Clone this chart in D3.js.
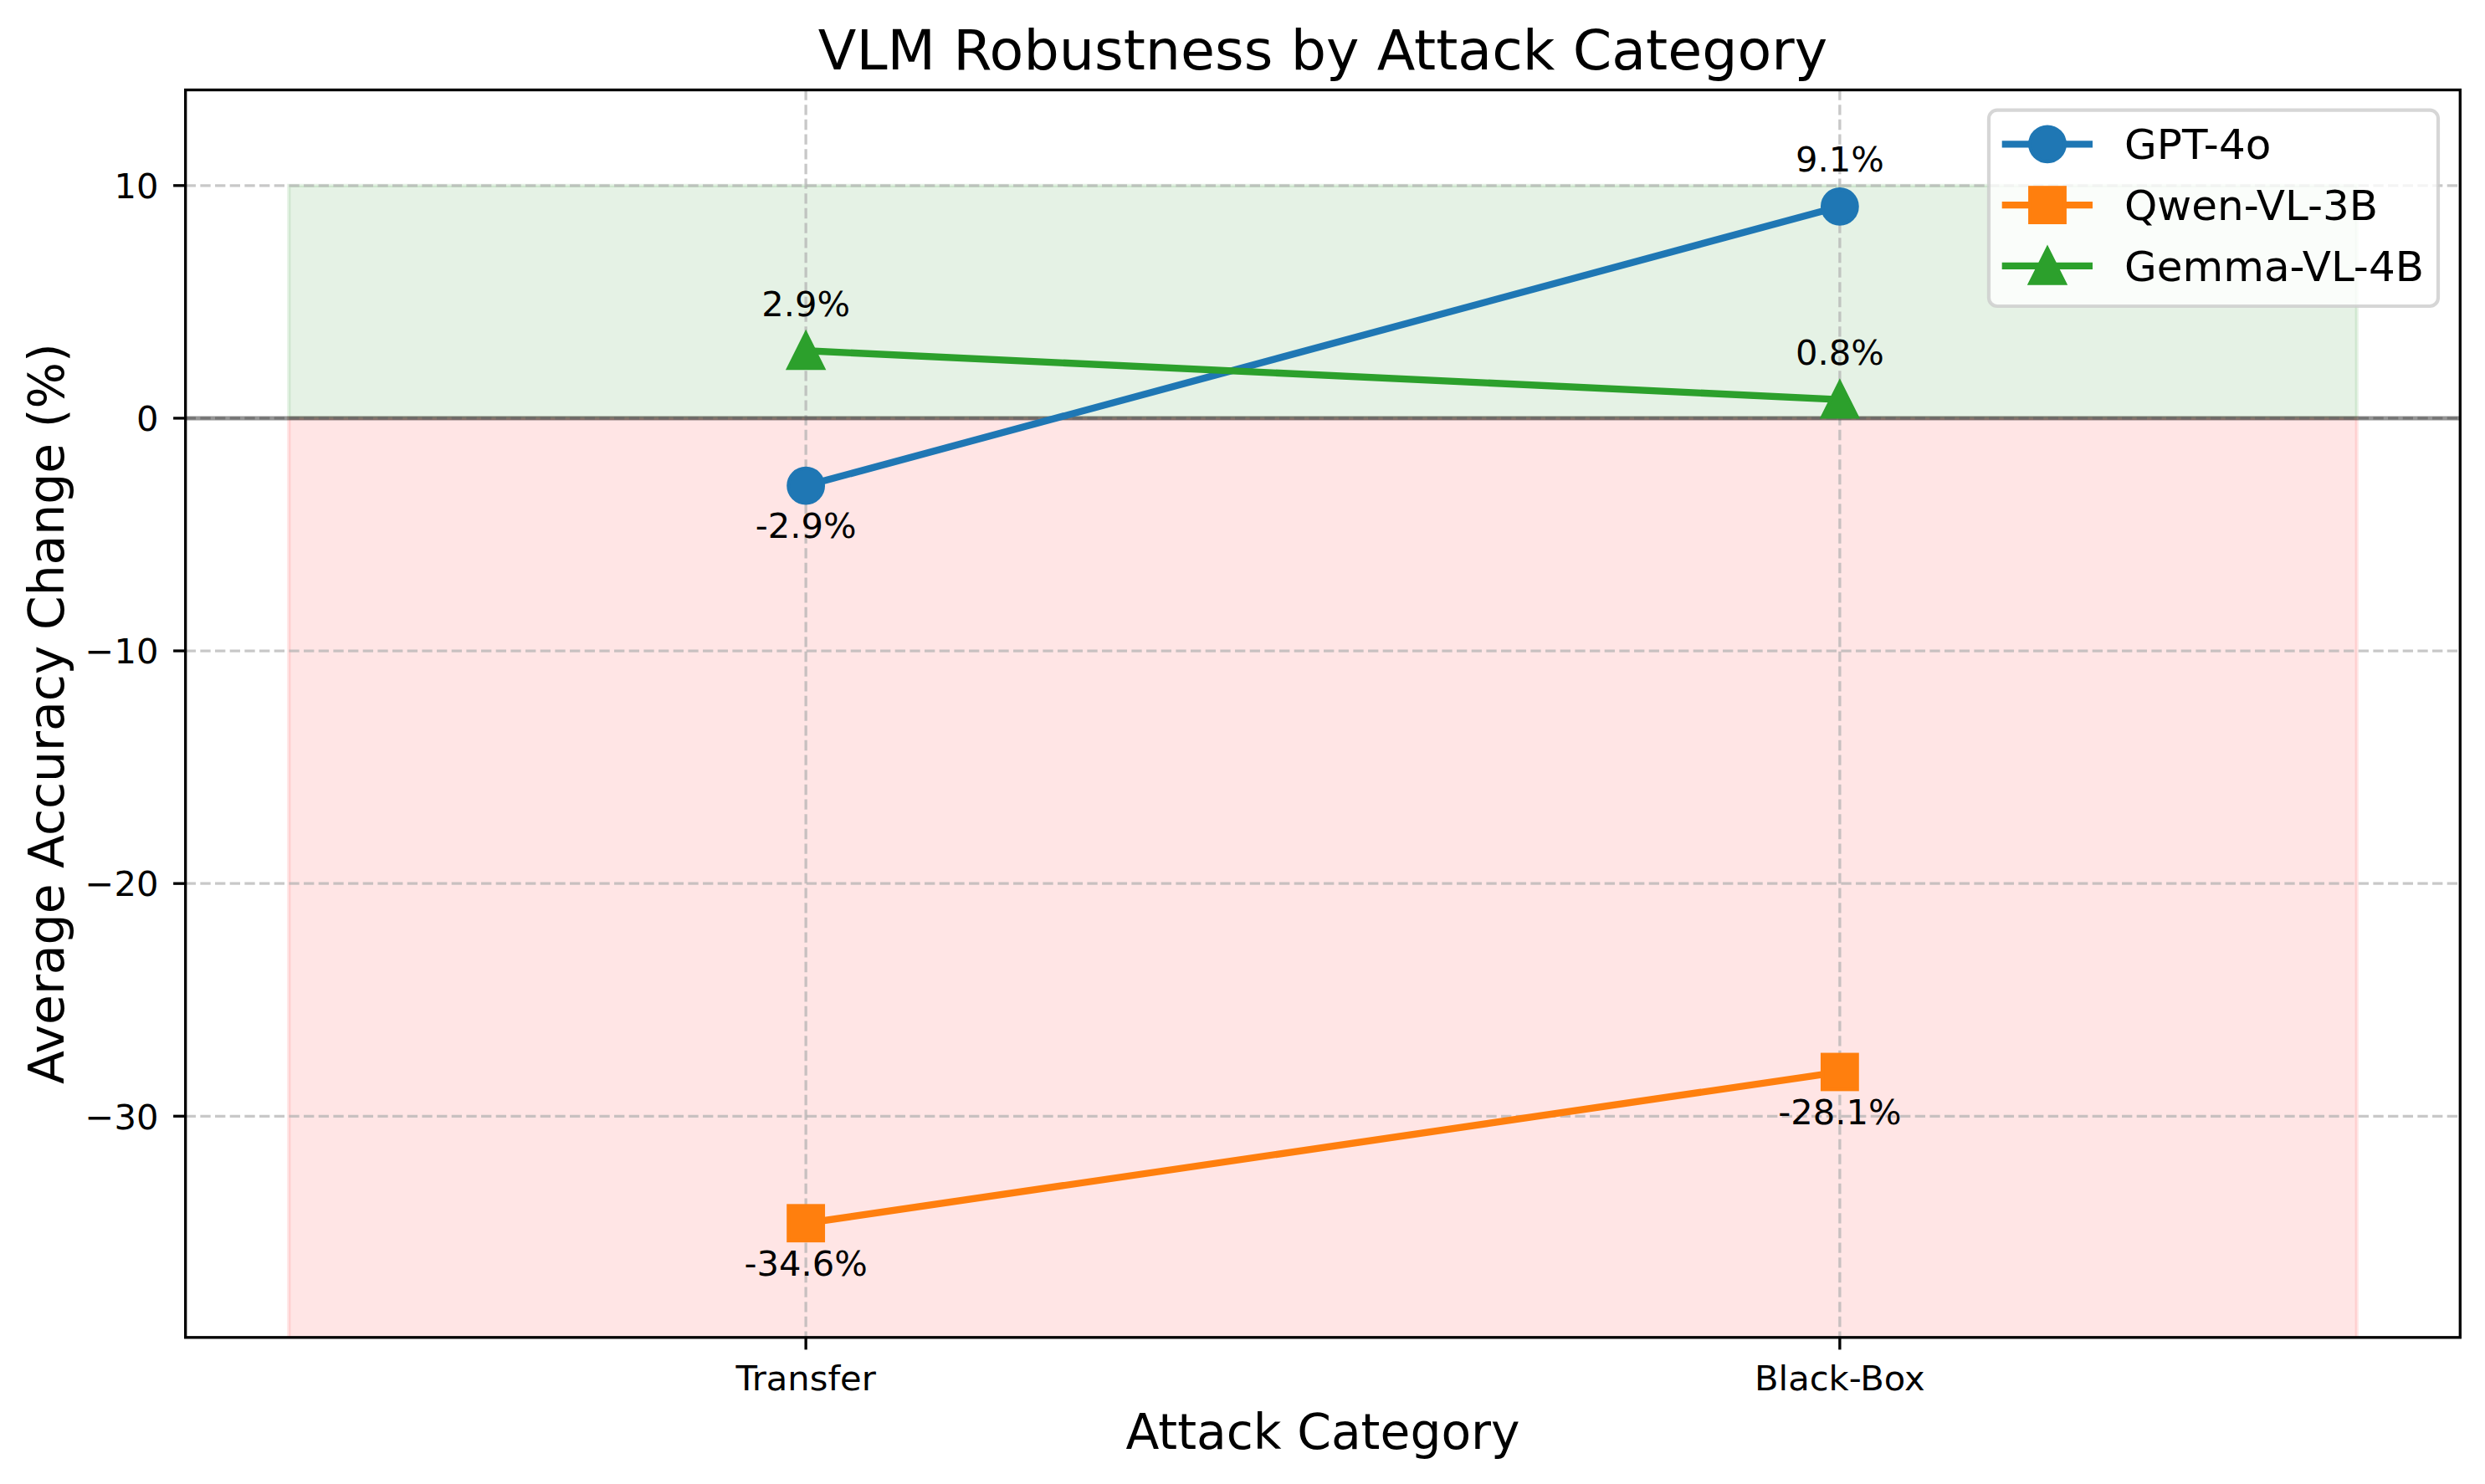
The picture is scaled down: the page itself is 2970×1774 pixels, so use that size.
<!DOCTYPE html>
<html>
<head>
<meta charset="utf-8">
<script src="https://cdn.jsdelivr.net/npm/d3@7"></script>
<style>
  html, body { margin: 0; padding: 0; background: #fff; }
  svg { display: block; font-family: "DejaVu Sans", sans-serif; }
</style>
</head>
<body>
<svg id="chart" width="2970" height="1774"></svg>
<script>
// ---- data ----
const categories = ["Transfer", "Black-Box"];
const modelNames = ["GPT-4o", "Qwen-VL-3B", "Gemma-VL-4B"];
const gptValues = [-2.9, 9.1];
const qwenValues = [-34.6, -28.1];
const gemmaValues = [2.9, 0.8];
const yTickValues = [-30, -20, -10, 0, 10];
const seriesColors = ["#1f77b4", "#ff7f0e", "#2ca02c"];
const seriesMarkers = ["circle", "square", "triangle"];

const series = [
  { name: modelNames[0], values: gptValues, color: seriesColors[0], marker: seriesMarkers[0] },
  { name: modelNames[1], values: qwenValues, color: seriesColors[1], marker: seriesMarkers[1] },
  { name: modelNames[2], values: gemmaValues, color: seriesColors[2], marker: seriesMarkers[2] }
];

// ---- layout ----
const pt = 300 / 72;
const L = 221.7, R = 2940.3, T = 107.5, B = 1598.8;
const svg = d3.select("#chart");

const x = d3.scaleLinear().domain([-0.6, 1.6]).range([L, R]);
const y = d3.scaleLinear().domain([-39.51, 14.11]).range([B, T]);

svg.append("defs").append("clipPath").attr("id", "plotclip")
  .append("rect").attr("x", L).attr("y", T).attr("width", R - L).attr("height", B - T);

const plot = svg.append("g").attr("clip-path", "url(#plotclip)");

// shaded regions
const area = d3.area().x(d => x(d[0])).y0(d => y(d[1])).y1(d => y(d[2]));
plot.append("path")
  .datum([[-0.5, 0, 10], [1.5, 0, 10]])
  .attr("d", area)
  .attr("fill", "green").attr("fill-opacity", 0.1)
  .attr("stroke", "green").attr("stroke-opacity", 0.1).attr("stroke-width", pt);
plot.append("path")
  .datum([[-0.5, -45, 0], [1.5, -45, 0]])
  .attr("d", area)
  .attr("fill", "red").attr("fill-opacity", 0.1)
  .attr("stroke", "red").attr("stroke-opacity", 0.1).attr("stroke-width", pt);

// grid
const gridStyle = s => s.attr("stroke", "#b0b0b0").attr("stroke-opacity", 0.7)
  .attr("stroke-width", 0.8 * pt).attr("stroke-dasharray", `${2.96 * pt} ${1.28 * pt}`);
plot.selectAll(".hgrid").data(yTickValues).enter().append("line")
  .attr("x1", L).attr("x2", R).attr("y1", d => y(d)).attr("y2", d => y(d))
  .call(gridStyle);
plot.selectAll(".vgrid").data(categories).enter().append("line")
  .attr("y1", T).attr("y2", B).attr("x1", (d, i) => x(i)).attr("x2", (d, i) => x(i))
  .call(gridStyle);

// zero line
plot.append("line")
  .attr("x1", L).attr("x2", R).attr("y1", y(0)).attr("y2", y(0))
  .attr("stroke", "black").attr("stroke-opacity", 0.42).attr("stroke-width", 1.2 * pt);

// markers
const ms = 10 * pt;
function drawMarker(g, type, cx, cy, color, size) {
  const h = size / 2;
  let el;
  if (type === "circle") {
    el = g.append("circle").attr("cx", cx).attr("cy", cy).attr("r", h);
  } else if (type === "square") {
    el = g.append("rect").attr("x", cx - h).attr("y", cy - h).attr("width", size).attr("height", size);
  } else {
    el = g.append("path").attr("d", `M${cx},${cy - h}L${cx - h},${cy + h}L${cx + h},${cy + h}Z`);
  }
  el.attr("fill", color).attr("stroke", color).attr("stroke-width", pt).attr("stroke-linejoin", "miter");
}

const line = d3.line().x((d, i) => x(i)).y(d => y(d));
series.forEach(s => {
  const g = plot.append("g");
  g.append("path").datum(s.values).attr("d", line)
    .attr("fill", "none").attr("stroke", s.color).attr("stroke-width", 2 * pt)
    .attr("stroke-linecap", "square").attr("stroke-linejoin", "round");
  s.values.forEach((v, i) => drawMarker(g, s.marker, x(i), y(v), s.color, ms));
});

// annotations
const annG = svg.append("g");
series.forEach(s => {
  s.values.forEach((v, i) => {
    annG.append("text")
      .attr("x", x(i))
      .attr("y", v < 0 ? y(v) + 15 * pt : y(v) - 10 * pt)
      .attr("text-anchor", "middle")
      .attr("font-size", 10 * pt)
      .attr("fill", "black")
      .text(`${v.toFixed(1)}%`);
  });
});

// spines
svg.append("rect").attr("x", L).attr("y", T).attr("width", R - L).attr("height", B - T)
  .attr("fill", "none").attr("stroke", "black").attr("stroke-width", 0.8 * pt);

// y axis
const tickLen = 3.5 * pt, tickPad = 3.5 * pt;
const yAx = svg.append("g");
yTickValues.forEach(v => {
  yAx.append("line").attr("x1", L - tickLen).attr("x2", L).attr("y1", y(v)).attr("y2", y(v))
    .attr("stroke", "black").attr("stroke-width", 0.8 * pt);
  yAx.append("text").attr("x", L - tickLen - tickPad - 3).attr("y", y(v) + 15.2)
    .attr("text-anchor", "end").attr("font-size", 10 * pt)
    .text(d3.format("d")(v));
});
// x axis
const xAx = svg.append("g");
categories.forEach((c, i) => {
  xAx.append("line").attr("x1", x(i)).attr("x2", x(i)).attr("y1", B).attr("y2", B + tickLen)
    .attr("stroke", "black").attr("stroke-width", 0.8 * pt);
  xAx.append("text").attr("x", x(i)).attr("y", 1662)
    .attr("text-anchor", "middle").attr("font-size", 10 * pt).text(c);
});

// labels
svg.append("text").attr("x", (L + R) / 2).attr("y", 82.5)
  .attr("text-anchor", "middle").attr("font-size", 16 * pt)
  .text("VLM Robustness by Attack Category");
svg.append("text").attr("x", (L + R) / 2).attr("y", 1732)
  .attr("text-anchor", "middle").attr("font-size", 14 * pt)
  .text("Attack Category");
svg.append("text")
  .attr("transform", `translate(76,${(T + B) / 2}) rotate(-90)`)
  .attr("text-anchor", "middle").attr("font-size", 14 * pt)
  .text("Average Accuracy Change (%)");

// legend
const lg = svg.append("g");
lg.append("rect").attr("x", 2377).attr("y", 131.7).attr("width", 2914 - 2377).attr("height", 366 - 131.7)
  .attr("rx", 10).attr("ry", 10)
  .attr("fill", "white").attr("fill-opacity", 0.8)
  .attr("stroke", "#cccccc").attr("stroke-opacity", 0.8).attr("stroke-width", pt);
series.forEach((s, i) => {
  const cy = 172.3 + i * 72.8;
  lg.append("line").attr("x1", 2392.7).attr("x2", 2501).attr("y1", cy).attr("y2", cy)
    .attr("stroke", s.color).attr("stroke-width", 2 * pt);
  drawMarker(lg, s.marker, 2447, cy, s.color, ms);
  lg.append("text").attr("x", 2539).attr("y", cy + 17.7)
    .attr("font-size", 12 * pt).text(s.name);
});
</script>
</body>
</html>
